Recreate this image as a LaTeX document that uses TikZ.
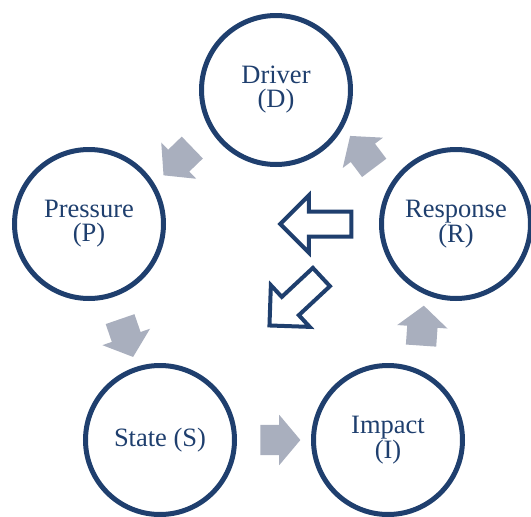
\documentclass[tikz,border=0pt]{standalone}
\usepackage{fontspec}
\setmainfont{Liberation Serif}
\usetikzlibrary{shapes.arrows,calc}
\definecolor{ringblue}{HTML}{1F3F6E}
\definecolor{flowgrey}{HTML}{A9AFBE}
\begin{document}
\begin{tikzpicture}[x=1pt,y=-1pt,
  stage/.style={circle,draw=ringblue,line width=5pt,minimum size=149pt,inner sep=0pt,
    align=center,text=ringblue,font=\fontsize{26.5}{24}\selectfont},
  flow/.style={single arrow,fill=flowgrey,minimum height=40pt,inner xsep=0pt,inner ysep=15pt,
    single arrow head extend=10pt,single arrow tip angle=100},
  turn/.style={single arrow,draw=ringblue,fill=white,line width=4pt,minimum height=71pt,
    inner xsep=0pt,inner ysep=10.5pt,single arrow head extend=16pt}]
\useasboundingbox (0,0) rectangle (531,517);
% the five stages
\node[stage] (drv) at (276,90) {Driver\\(D)};
\node[stage] (prs) at (89,224) {Pressure\\(P)};
\node[stage] (rsp) at (456,224) {Response\\(R)};
\node[stage] (sta) at (160,440) {State (S)};
\node[stage] (imp) at (388,440) {Impact\\(I)};
% grey arrows round the cycle
\node[flow,rotate=224] (dp) at ($(drv)!.5!(prs)$) {};
\node[flow,rotate=-71] (ps) at ($(prs)!.5!(sta)$) {};
\node[flow] (si) at ($(sta)!.5!(imp)$) {};
\node[flow,rotate=86] (ir) at ($(imp)!.5!(rsp)$) {};
\node[flow,rotate=127] (rd) at ($(rsp)!.5!(drv)$) {};
% outlined arrows in the middle
\node[turn,rotate=180] (back) at (322,224) {};
\node[turn,rotate=223] (down) at (300,297) {};
\end{tikzpicture}
\end{document}
